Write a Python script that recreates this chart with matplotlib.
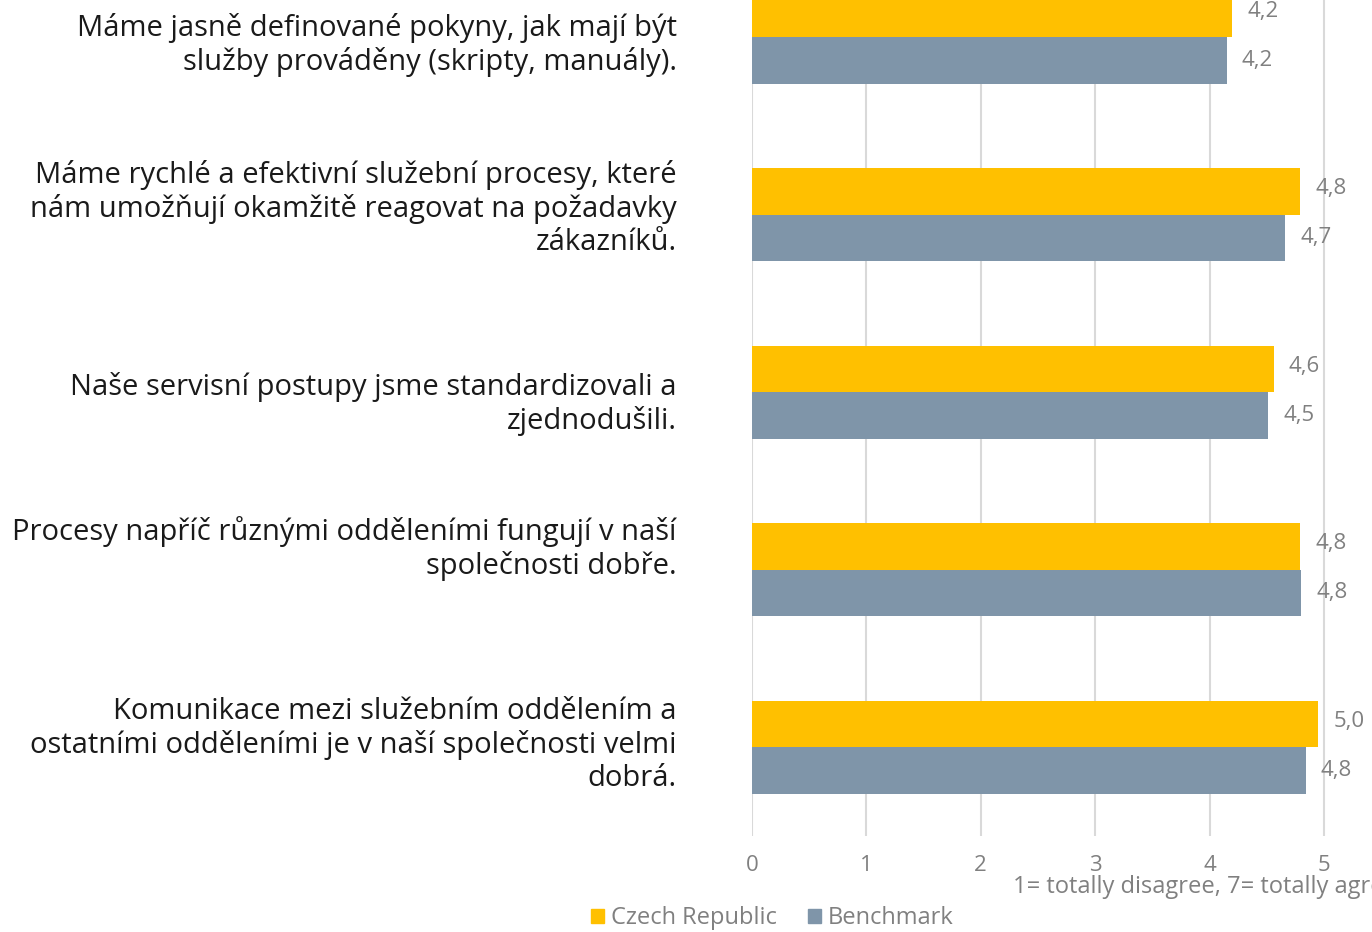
import matplotlib.pyplot as plt
from matplotlib.patches import Patch

plt.rcParams['font.family'] = ['Open Sans', 'DejaVu Sans']

categories = [
    "Máme jasně definované pokyny, jak mají být\nslužby prováděny (skripty, manuály).",
    "Máme rychlé a efektivní služební procesy, které\nnám umožňují okamžitě reagovat na požadavky\nzákazníků.",
    "Naše servisní postupy jsme standardizovali a\nzjednodušili.",
    "Procesy napříč různými odděleními fungují v naší\nspolečnosti dobře.",
    "Komunikace mezi služebním oddělením a\nostatními odděleními je v naší společnosti velmi\ndobrá.",
]
czech = [4.20, 4.79, 4.56, 4.79, 4.95]
benchmark = [4.15, 4.66, 4.51, 4.80, 4.84]
series_names = ["Czech Republic", "Benchmark"]
axis_title = "1= totally disagree, 7= totally agree"

yellow = "#FFC000"
grey = "#7F95A9"
text_grey = "#808080"

fig = plt.figure(figsize=(13.72, 9.32), dpi=100)
ax = fig.add_axes([0.548, 0.103, 0.452, 0.9525])

h = 0.262
pos = list(range(len(categories)))
ax.barh([p - h / 2 for p in pos], czech, height=h, color=yellow, zorder=3)
ax.barh([p + h / 2 for p in pos], benchmark, height=h, color=grey, zorder=3)

for p, v in zip(pos, czech):
    ax.annotate(f"{v:.1f}".replace(".", ","), (v, p - h / 2), xytext=(11, 2),
                textcoords="offset points", va="center", ha="left",
                fontsize=16, color=text_grey)
for p, v in zip(pos, benchmark):
    ax.annotate(f"{v:.1f}".replace(".", ","), (v, p + h / 2), xytext=(11, 0),
                textcoords="offset points", va="center", ha="left",
                fontsize=16, color=text_grey)

# category labels, nudged (in px) like the original
label_shift = [-8, 6, -12, 21, 2]
for p, lab, dy in zip(pos, categories, label_shift):
    ax.annotate(lab, (0, p), xycoords=("axes fraction", "data"),
                xytext=(-54, dy * 0.72), textcoords="offset points",
                ha="right", va="center", fontsize=21, color="#1a1a1a",
                linespacing=1.18, annotation_clip=False)

ax.set_xlim(0, 5.42)
ax.set_ylim(4.5, -0.5)
ax.set_xticks([0, 1, 2, 3, 4, 5])
ax.set_yticks([])
ax.tick_params(axis="x", length=0, pad=14, labelsize=16, labelcolor=text_grey)
ax.grid(axis="x", color="#d9d9d9", linewidth=1.5, zorder=0)
for s in ax.spines.values():
    s.set_visible(False)

fig.text(1013 / 1372, 1 - 887 / 932, axis_title, ha="left", va="center",
         fontsize=17, color=text_grey)

handles = [Patch(color=yellow), Patch(color=grey)]
fig.legend(handles, series_names, loc="center", bbox_to_anchor=(0.563, 0.015),
           ncol=2, frameon=False, fontsize=17, labelcolor=text_grey,
           handlelength=0.55, handleheight=0.55, handletextpad=0.3,
           columnspacing=1.3)

fig.savefig("out.png", dpi=100)
